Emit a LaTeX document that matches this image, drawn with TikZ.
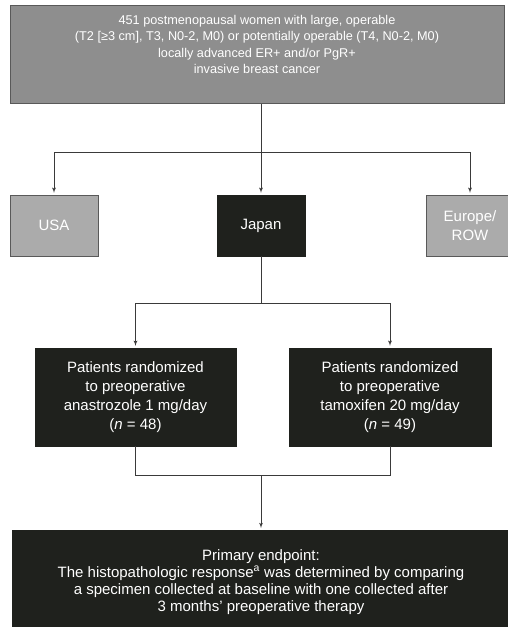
\documentclass[tikz,border=0pt]{standalone}
\usepackage{fontspec}
\setmainfont{Liberation Sans}
\usetikzlibrary{arrows}
\definecolor{boxdark}{HTML}{1F211D}
\definecolor{boxgray}{HTML}{8E8E8E}
\definecolor{boxlight}{HTML}{ABABAB}
\definecolor{linegray}{HTML}{3A3A3A}

\begin{document}
\begin{tikzpicture}[x=1pt,y=-1pt]
\tikzset{box/.style = {shape=rectangle,draw=gray!70!black,inner sep=0pt,align=center,text=white,font=\fontsize{15}{19}\selectfont}}
\tikzset{darkbox/.style = {box,fill=boxdark,draw=boxdark}}
\tikzset{graybox/.style = {box,fill=boxlight}}
\tikzset{edge/.style = {->,> = latex',draw=linegray,line width=0.8pt,shorten >=2pt}}
\tikzset{line/.style = {-,draw=linegray,line width=0.8pt}}
\useasboundingbox (0,0) rectangle (507,627);
% vertices
\node[box,fill=boxgray,anchor=north,minimum width=494,inner ysep=10pt,text depth=20pt,font=\fontsize{12.7}{16.3}\selectfont] (women) at (257,5)
  {451 postmenopausal women with large, operable\\
   (T2 [≥3 cm], T3, N0-2, M0) or potentially operable (T4, N0-2, M0)\\
   locally advanced ER+ and/or PgR+\\
   invasive breast cancer};
\node[graybox,minimum width=88,minimum height=61] (usa) at (54,225.5) {USA};
\node[darkbox,minimum width=88,minimum height=61] (japan) at (261,225.5) {Japan};
\node[graybox,minimum width=88,minimum height=61] (europe) at (470,225.5) {Europe/\\ROW};
\node[darkbox,minimum width=201,minimum height=98] (anas) at (135.5,397)
  {Patients randomized\\to preoperative\\anastrozole 1 mg/day\\(\textit{n} = 48)};
\node[darkbox,minimum width=202,minimum height=98] (tamo) at (390,397)
  {Patients randomized\\to preoperative\\tamoxifen 20 mg/day\\(\textit{n} = 49)};
\node[darkbox,anchor=north,minimum width=498,inner ysep=19pt,text depth=12pt,font=\fontsize{15}{17}\selectfont] (endpt) at (261,530)
  {Primary endpoint:\\
   The histopathologic response\textsuperscript{a} was determined by comparing\\
   a specimen collected at baseline with one collected after\\
   3 months' preoperative therapy};
\coordinate (split1) at (261,152);
\coordinate (split2) at (261,303);
\coordinate (join) at (261,475);
%edges
\draw[line] (women.south -| japan) -- (split1);
\draw[edge] (split1) -| (usa);
\draw[edge] (split1) -- (japan);
\draw[edge] (split1) -| (europe);
\draw[line] (japan) -- (split2);
\draw[edge] (split2) -| (anas);
\draw[edge] (split2) -| (tamo);
\draw[line] (anas) |- (join);
\draw[line] (tamo) |- (join);
\draw[edge] (join) -- (endpt);
\end{tikzpicture}
\end{document}
